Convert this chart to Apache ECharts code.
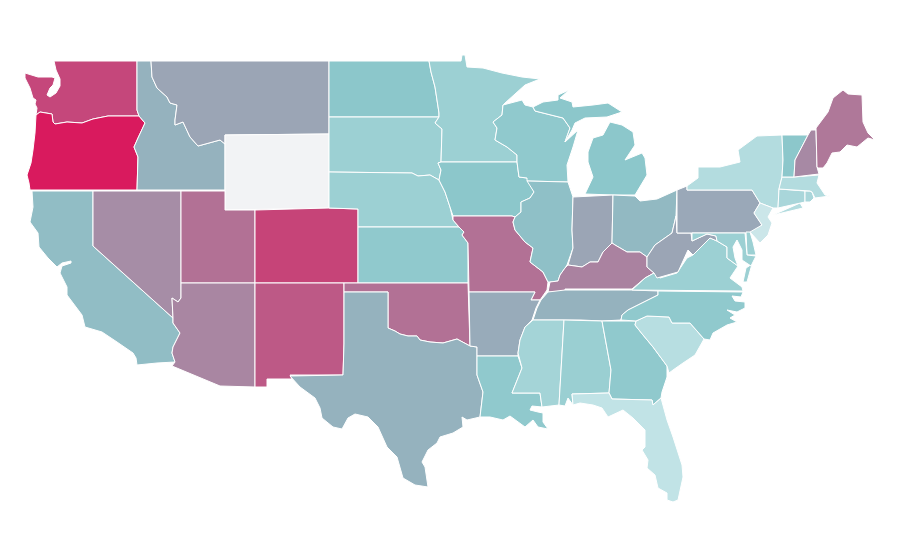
<!DOCTYPE html>
<html><head><meta charset="utf-8">
<style>html,body{margin:0;padding:0;background:#fff}#c{width:900px;height:560px}</style>
<script src="https://cdn.jsdelivr.net/npm/echarts@6/dist/echarts.min.js"></script>
</head><body><div id="c"></div>
<script>
const stateNames = ["Washington","Oregon","California","Nevada","Idaho","Montana","Wyoming","Utah","Arizona","Colorado","New Mexico","North Dakota","South Dakota","Nebraska","Kansas","Oklahoma","Texas","Minnesota","Iowa","Missouri","Arkansas","Louisiana","Wisconsin","Illinois","Michigan","Indiana","Ohio","Kentucky","Tennessee","Mississippi","Alabama","Georgia","Florida","South Carolina","North Carolina","Virginia","West Virginia","Pennsylvania","New York","New Jersey","Delaware","Maryland","Connecticut","Rhode Island","Massachusetts","Vermont","New Hampshire","Maine"];
const stateValues = [87,100,53,67,56,60,0,75,69,88,82,50,42,42,48,75,56,42,50,75,58,48,48,52,50,60,54,70,56,38,43,48,24,29,48,42,60,59,31,19,42,42,36,36,31,50,68,73];
const colorStops = ['#f2f3f5','#bfe2e5','#8cc7cb','#b27195','#d91a5e'];
// State outlines (x,y in the picture's frame; | separates parts)
const outlines = {
"Washington":"54,61 137,61 137,110 139,116 108,116 93,119 82,123 67,122 55,124 53,122 52,114 40,112 36,115 37,108 35,104 36,100 33,98 30,88 25,78 25,73 38,77 52,77 55,78 53,85 50,88 47,95 50,97 56,93 60,86 60,79 56,70",
"Oregon":"36,115 40,112 52,114 53,122 55,124 67,122 82,123 93,119 108,116 139,116 145,123 138,138 134,147 138,157 137,190 30,190 29,183 27,175 31,163 33,150 35,133",
"California":"32,191 93,191 93,246 173,318 173,323 180,333 173,347 172,353 175,362 157,363 137,365 136,358 133,353 117,342 102,332 85,327 82,315 67,295 67,287 60,273 62,266 71,263 71,261 62,263 57,267 48,258 39,247 38,233 30,222 33,207",
"Nevada":"93,191 181,191 181,298 178,302 172,298 173,318 93,246",
"Idaho":"137,61 151,61 152,77 157,88 167,97 170,103 177,105 175,120 175,125 183,122 190,137 198,146 220,140 225,144 225,190 137,190 138,157 134,147 138,138 145,123 139,116 137,110",
"Montana":"151,61 329,61 329,134 225,135 225,144 220,140 198,146 190,137 183,122 175,125 175,120 177,105 170,103 167,97 157,88 152,77",
"Wyoming":"225,135 329,134 329,208 225,210",
"Utah":"181,191 225,191 225,210 255,210 255,283 181,283",
"Arizona":"181,283 255,283 255,387 220,386 172,366 175,362 172,353 173,347 180,333 173,323 173,318 172,298 178,302 181,298",
"Colorado":"255,210 329,208 358,209 358,283 255,283",
"New Mexico":"255,283 344,283 344,344 343,375 290,375 292,379 267,379 267,387 255,387",
"North Dakota":"329,61 429,61 431,72 435,87 437,100 439,113 439,117 329,117",
"South Dakota":"329,117 439,117 435,123 442,129 441,162 438,163 441,170 439,180 430,175 418,176 412,173 329,172",
"Nebraska":"329,172 412,173 418,176 430,175 439,180 445,192 450,207 453,220 459,227 358,227 358,209 329,208",
"Kansas":"358,227 459,227 464,232 462,235 468,243 468,283 358,283",
"Oklahoma":"344,283 468,283 470,346 457,339 443,343 430,342 420,340 417,336 408,336 400,334 395,331 388,328 388,292 344,292",
"Texas":"344,292 388,292 388,328 395,331 400,334 408,336 417,336 420,340 430,342 443,343 457,339 470,346 477,347 477,375 483,392 480,417 467,420 462,417 463,427 453,433 440,437 437,443 428,450 422,462 425,467 428,487 415,485 403,478 397,457 387,447 378,427 368,417 355,414 348,418 342,429 333,427 322,418 320,408 315,398 300,387 290,376 343,375 344,344",
"Minnesota":"429,61 461,61 462,55 465,55 467,67 483,68 502,73 522,77 540,79 525,85 505,103 503,105 502,115 493,122 497,128 495,140 507,147 517,155 517,162 441,162 442,129 435,123 439,117 439,113 437,100 435,87 431,72",
"Iowa":"441,162 517,162 519,177 527,178 534,192 530,198 521,202 521,212 515,217 512,216 453,216 450,207 445,192 439,180 441,170 438,163",
"Missouri":"453,216 512,216 515,217 513,222 515,230 525,242 533,248 530,262 543,272 548,282 547,290 540,300 531,300 535,292 469,292 468,243 462,235 464,232 459,227 453,220",
"Arkansas":"469,292 535,292 531,300 540,300 536,308 532,320 525,327 520,340 518,353 518,356 477,356 477,347 470,346",
"Louisiana":"477,356 518,356 522,368 512,393 540,393 542,407 532,406 530,410 538,412 543,413 543,422 548,429 538,427 533,420 525,427 510,416 503,420 490,417 480,417 483,392 477,375",
"Wisconsin":"503,105 522,100 525,105 533,107 535,111 563,118 570,128 565,142 578,130 573,147 567,165 568,182 527,181 527,178 519,177 517,162 517,155 507,147 495,140 497,128 493,122 502,115",
"Illinois":"527,181 568,182 573,197 572,230 573,248 567,265 565,268 560,275 558,281 550,282 548,282 543,272 530,262 533,248 525,242 515,230 513,222 515,217 521,212 521,202 530,198 534,192",
"Michigan":"585,194 593,177 588,162 588,152 593,138 603,135 610,122 622,125 633,132 635,145 625,160 642,153 645,158 647,175 635,195 613,195|533,107 543,102 558,100 558,95 569,90 560,98 572,102 573,107 593,105 608,103 622,112 607,117 585,118 575,123 572,130 565,142 570,128 563,118 535,111",
"Indiana":"573,197 613,195 612,243 603,252 598,262 590,262 582,267 568,265 567,265 573,248 572,230",
"Ohio":"613,195 635,196 640,201 657,199 677,190 676,216 672,233 655,245 647,257 640,252 627,252 615,245 612,243",
"Kentucky":"548,292 550,282 558,281 560,275 565,268 568,265 582,267 590,262 598,262 603,252 612,243 615,245 627,252 640,252 647,257 647,267 654,273 645,278 632,289 565,289 565,292",
"Tennessee":"565,290 632,290 658,291 658,295 648,300 628,310 622,315 621,320 602,321 581,320 533,320 537,308 541,300 548,292",
"Mississippi":"533,320 564,320 559,405 542,407 540,393 512,393 522,368 518,353 520,340 525,327",
"Alabama":"564,320 602,321 611,370 609,393 572,394 573,405 568,398 565,406 559,405",
"Georgia":"602,321 636,321 635,325 643,335 653,347 667,366 667,377 662,392 661,398 653,405 652,400 612,399 609,393 611,370",
"Florida":"572,394 609,393 612,399 652,400 653,405 661,398 667,420 673,437 682,465 683,477 678,500 673,502 667,500 667,493 658,488 655,475 647,468 648,460 642,450 645,447 645,430 633,418 623,410 608,417 602,408 593,405 580,403 573,405",
"South Carolina":"636,321 647,316 669,317 672,323 690,323 704,339 695,355 683,363 673,370 669,373 667,366 653,347 643,335 635,325",
"North Carolina":"658,291 743,292 741,297 732,296 735,301 745,302 745,308 737,312 727,310 735,315 730,318 737,322 727,325 713,333 710,340 704,339 690,323 672,323 669,317 647,316 636,321 621,320 622,315 628,310 648,300 658,295",
"Virginia":"632,290 645,278 654,273 660,278 677,273 687,258 693,255 698,250 710,238 717,241 727,247 727,258 738,266 730,278 742,287 743,291|746,268 752,264 747,282 743,282",
"West Virginia":"677,233 691,233 692,241 707,234 716,236 717,241 710,238 698,250 693,255 688,250 678,272 657,278 654,273 647,267 647,257 655,245 672,233 676,216",
"Pennsylvania":"687,186 687,190 752,190 760,203 754,213 762,225 752,233 677,233 677,190",
"New York":"687,186 698,178 698,167 720,167 740,162 738,150 757,136 782,135 783,160 782,177 779,189 778,208 773,208 760,203 752,190 687,190|773,215 800,203 803,208 782,213",
"New Jersey":"760,203 773,208 768,217 772,223 768,235 760,243 750,232 762,225 754,213",
"Delaware":"746,232 750,232 753,242 756,255 747,255",
"Maryland":"692,233 745,233 747,255 756,256 751,266 742,260 742,250 737,240 733,247 735,258 738,266 727,258 727,247 717,241 716,236 707,234 692,241",
"Connecticut":"779,189 805,191 805,202 778,208",
"Rhode Island":"805,191 810,191 812,192 814,198 810,202 805,202",
"Massachusetts":"782,177 794,177 819,175 817,183 825,195 830,196 815,198 812,192 810,191 779,189",
"Vermont":"782,135 808,135 795,160 794,177 782,177 783,160",
"New Hampshire":"811,130 816,130 817,167 819,174 794,177 795,160 808,135",
"Maine":"816,128 828,112 833,98 843,90 848,94 862,95 863,122 868,133 875,140 868,138 857,147 847,145 840,152 832,153 827,163 823,168 818,168 817,167"
};
const parts = s => s.split('|').map(p => [p.split(' ').map(q => { const [x,y] = q.split(',').map(Number); return [x,-y]; })]);
const geo = { type:'FeatureCollection', features: stateNames.map(n => ({
  type:'Feature', properties:{name:n},
  geometry:{ type:'MultiPolygon', coordinates: parts(outlines[n]) }
}))};
const pts = geo.features.flatMap(f => f.geometry.coordinates.flat(2));
const xs = pts.map(p => p[0]), ys = pts.map(p => -p[1]);
const minX = Math.min(...xs), maxX = Math.max(...xs), minY = Math.min(...ys), maxY = Math.max(...ys);
echarts.registerMap('usa', geo);
const chart = echarts.init(document.getElementById('c'), null, {renderer:'canvas'});
chart.setOption({
  animation:false,
  backgroundColor:'#fff',
  visualMap:{ show:false, type:'continuous', min:0, max:100, inRange:{color:colorStops} },
  series:[{
    type:'map', map:'usa', aspectScale:1, roam:false,
    left:minX, top:minY, width:maxX-minX, height:maxY-minY,
    label:{show:false}, emphasis:{disabled:true}, select:{disabled:true},
    itemStyle:{borderColor:'#fff', borderWidth:1},
    data: stateNames.map((name,i) => ({name, value:stateValues[i]}))
  }]
});
</script></body></html>
